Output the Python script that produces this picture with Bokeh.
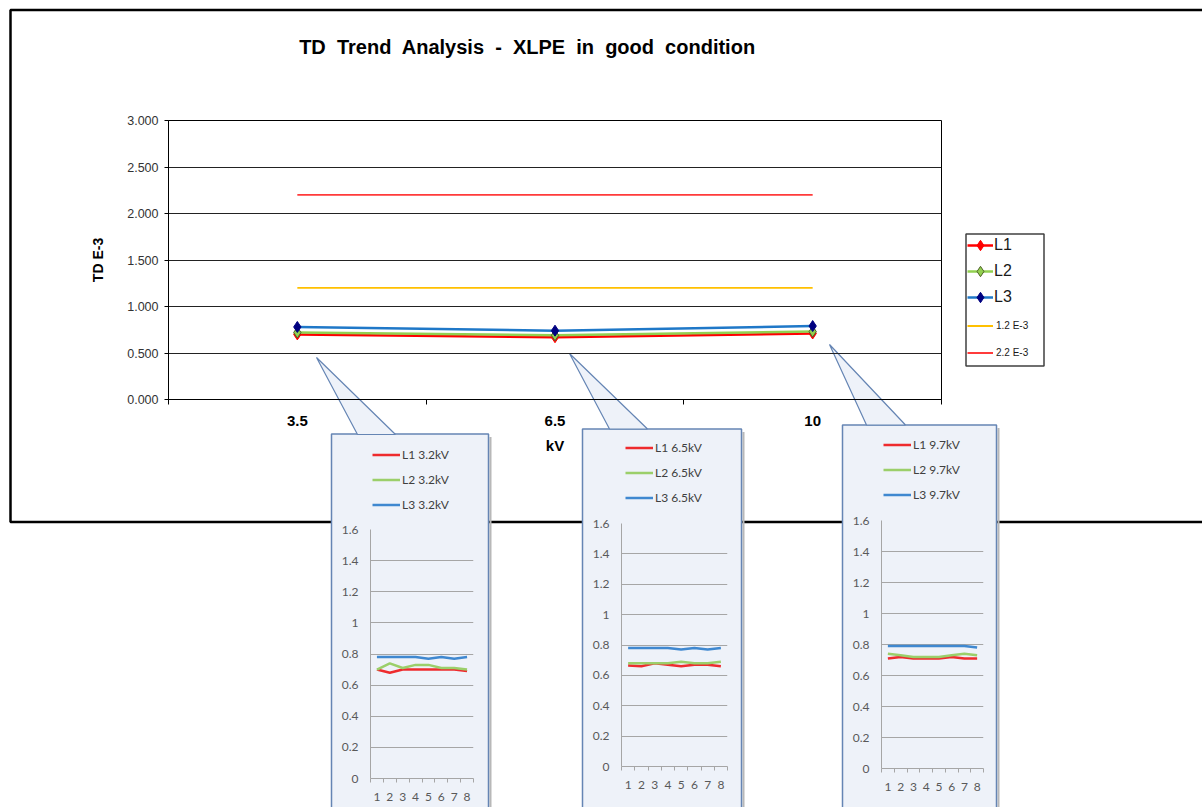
import numpy as np
from bokeh.plotting import figure
from bokeh.layouts import column
from bokeh.models import (Range1d, FixedTicker, Legend, LegendItem, Label,
                          NumeralTickFormatter, Row)
from bokeh.embed import file_html
from bokeh.resources import INLINE

# ---------------- data ----------------
kv_labels = ["3.5", "6.5", "10"]
td_L1 = [0.70, 0.67, 0.71]
td_L2 = [0.72, 0.69, 0.73]
td_L3 = [0.78, 0.74, 0.79]
limit_12 = [1.2, 1.2, 1.2]
limit_22 = [2.2, 2.2, 2.2]
main_y_ticks = [0.0, 0.5, 1.0, 1.5, 2.0, 2.5, 3.0]

samples = [1, 2, 3, 4, 5, 6, 7, 8]
inset_y_ticks = [0, 0.2, 0.4, 0.6, 0.8, 1.0, 1.2, 1.4, 1.6]

kv32_L1 = [0.70, 0.68, 0.70, 0.70, 0.70, 0.70, 0.70, 0.69]
kv32_L2 = [0.70, 0.74, 0.71, 0.73, 0.73, 0.71, 0.71, 0.70]
kv32_L3 = [0.78, 0.78, 0.78, 0.78, 0.77, 0.78, 0.77, 0.78]

kv65_L1 = [0.665, 0.66, 0.68, 0.67, 0.66, 0.67, 0.67, 0.66]
kv65_L2 = [0.68, 0.68, 0.68, 0.68, 0.69, 0.68, 0.68, 0.69]
kv65_L3 = [0.78, 0.78, 0.78, 0.78, 0.77, 0.78, 0.77, 0.78]

kv97_L1 = [0.71, 0.72, 0.71, 0.71, 0.71, 0.72, 0.71, 0.71]
kv97_L2 = [0.74, 0.73, 0.72, 0.72, 0.72, 0.73, 0.74, 0.73]
kv97_L3 = [0.79, 0.79, 0.79, 0.79, 0.79, 0.79, 0.79, 0.78]

inset_names = ["3.2kV", "6.5kV", "9.7kV"]

# ---------------- styles ----------------
RED = "#FF0000"
GREEN = "#92D050"
BLUE = "#1F78C8"
NAVY = "#000080"
OLIVE = "#4F6228"
YELLOW = "#FFC000"
RED2 = "#FF3B3B"
IRED = "#EE2B2E"
IGREEN = "#9BCF6A"
IBLUE = "#3F88D0"
BOX_FILL = "#EEF2F9"
BOX_LINE = "#6585B4"
ARIAL = "Liberation Sans"
CAL = "Lato"
NB = "\u00a0"

W, H = 1202, 807
NAN2 = np.array([np.nan, np.nan])  # legend-only proxy renderers (draw nothing)


def no_align(f):
    if "frame_align" in f.properties():
        f.frame_align = False
    return f


# ---------------- base (decorations + legends) ----------------
base = figure(width=W, height=H, x_range=Range1d(0, W), y_range=Range1d(H, 0),
              output_backend="svg", toolbar_location=None, tools="", min_border=0,
              x_axis_location=None, y_axis_location=None, outline_line_color=None,
              background_fill_color="white", border_fill_color="white")
no_align(base)
base.grid.visible = False

# outer chart border
base.quad(left=[10], right=[1240], top=[9.5], bottom=[521.5], fill_color=None,
          line_color="black", line_width=2.5)

# title
title_text = (NB + " ").join(["TD", "Trend", "Analysis", "-", "XLPE", "in", "good", "condition"])
base.add_layout(Label(x=527, y=46, text=title_text,
                      text_align="center", text_baseline="middle", text_font=ARIAL,
                      text_font_size="20px", text_font_style="bold", text_color="black"))

# main legend box
base.quad(left=[965.5], right=[1043.5], top=[233.5], bottom=[365.5], fill_color="white",
          line_color="#404040", line_width=1.5)

# inset boxes
box_left = [331, 582, 842]
box_right = [488, 741, 996]
box_top = [433.5, 428.5, 424.5]
base.segment(x0=[r + 2 for r in box_right], x1=[r + 2 for r in box_right],
             y0=[t + 3 for t in box_top], y1=[830] * 3, line_color="#B8B8B8", line_width=2)
base.quad(left=box_left, right=box_right, top=box_top, bottom=[830] * 3,
          fill_color=BOX_FILL, line_color=BOX_LINE, line_width=1.5)
# callout pointers
base.patches(xs=[[316, 357, 395], [569, 609, 647], [829, 866, 905]],
             ys=[[357, 434, 434], [353, 428.5, 428.5], [344, 424.5, 424.5]],
             fill_color=BOX_FILL, line_color=BOX_LINE, line_width=1.2)

# main legend (two font sizes -> two legends)
leg_items_a = []
for lab, lc, mf, ml in [("L1", RED, RED, RED), ("L2", GREEN, GREEN, OLIVE), ("L3", BLUE, NAVY, NAVY)]:
    rl = base.line(x=NAN2, y=NAN2, line_color=lc, line_width=2.5)
    rs = base.scatter(x=NAN2, y=NAN2, marker="diamond", size=10, fill_color=mf, line_color=ml)
    leg_items_a.append(LegendItem(label=lab, renderers=[rl, rs]))
leg_a = Legend(items=leg_items_a, location=(967, H - 310), glyph_width=26,
               glyph_height=26, label_height=26, spacing=0, padding=0, margin=0,
               label_standoff=1, label_text_font=ARIAL, label_text_font_size="16px",
               label_text_color="#1A1A1A",
               border_line_color=None, background_fill_alpha=0)
base.add_layout(leg_a)
leg_items_b = []
for lab, lc in [("1.2 E-3", YELLOW), ("2.2 E-3", RED2)]:
    rl = base.line(x=NAN2, y=NAN2, line_color=lc, line_width=2)
    leg_items_b.append(LegendItem(label=lab, renderers=[rl]))
leg_b = Legend(items=leg_items_b, location=(967, H - 366), glyph_width=26,
               glyph_height=27, label_height=27, spacing=0, padding=0, margin=0,
               label_standoff=3, label_text_font=ARIAL, label_text_font_size="10px",
               label_text_color="#1A1A1A",
               border_line_color=None, background_fill_alpha=0)
base.add_layout(leg_b)

# inset legends
inset_leg_pos = [(372, 516.5), (625, 510), (883, 506.5)]
for name, (lx, lb) in zip(inset_names, inset_leg_pos):
    items = []
    for lab, col in [("L1", IRED), ("L2", IGREEN), ("L3", IBLUE)]:
        rl = base.line(x=NAN2, y=NAN2, line_color=col, line_width=2.5)
        items.append(LegendItem(label=f"{lab} {name}", renderers=[rl]))
    lg = Legend(items=items, location=(lx, H - lb), glyph_width=28,
                glyph_height=25, label_height=25, spacing=0, padding=0, margin=0,
                label_standoff=2, label_text_font=CAL, label_text_font_size="12px",
                label_text_color="#404040", border_line_color=None, background_fill_alpha=0)
    base.add_layout(lg)

# ---------------- main chart ----------------
MAIN_H = 522
xpos = [i + 0.5 for i in range(len(kv_labels))]
main = figure(width=W, height=MAIN_H, x_range=Range1d(0, len(kv_labels)), y_range=Range1d(0, 3),
              output_backend="svg", toolbar_location=None, tools="",
              min_border_left=168, min_border_right=W - 941, min_border_top=120,
              min_border_bottom=MAIN_H - 399,
              background_fill_color=None, border_fill_color=None,
              outline_line_color="black", outline_line_width=1, margin=(-H, 0, 0, 0))
no_align(main)

main.line(xpos, limit_22, line_color=RED2, line_width=1.6)
main.line(xpos, limit_12, line_color=YELLOW, line_width=1.6)
main.line(xpos, td_L1, line_color=RED, line_width=2.5)
main.scatter(xpos, td_L1, marker="diamond", size=11, fill_color=RED, line_color=RED)
main.line(xpos, td_L2, line_color=GREEN, line_width=2.5)
main.scatter(xpos, td_L2, marker="diamond", size=11, fill_color=GREEN, line_color=OLIVE)
main.line(xpos, td_L3, line_color=BLUE, line_width=2.5)
main.scatter(xpos, td_L3, marker="diamond", size=11, fill_color=NAVY, line_color=NAVY)

xax = main.xaxis[0]
xax.ticker = FixedTicker(ticks=xpos, minor_ticks=list(range(len(kv_labels) + 1)))
xax.major_label_overrides = {x: lab for x, lab in zip(xpos, kv_labels)}
xax.major_tick_out = 0
xax.major_tick_in = 0
xax.minor_tick_out = 5
xax.minor_tick_in = 0
xax.minor_tick_line_color = "black"
xax.axis_line_color = "black"
xax.major_label_text_font = ARIAL
xax.major_label_text_font_size = "15px"
xax.major_label_text_font_style = "bold"
xax.major_label_text_color = "black"
xax.major_label_standoff = 11
xax.axis_label = "kV"
xax.axis_label_text_font = ARIAL
xax.axis_label_text_font_size = "15px"
xax.axis_label_text_font_style = "bold"
xax.axis_label_text_color = "black"
xax.axis_label_standoff = 8

yax = main.yaxis[0]
yax.ticker = FixedTicker(ticks=main_y_ticks)
yax.formatter = NumeralTickFormatter(format="0.000")
yax.major_tick_out = 4
yax.major_tick_in = 0
yax.minor_tick_out = 0
yax.minor_tick_in = 0
yax.axis_line_color = "black"
yax.major_label_text_font = ARIAL
yax.major_label_text_font_size = "12.5px"
yax.major_label_text_color = "#333333"
yax.major_label_standoff = 6
yax.axis_label = "TD E-3"
yax.axis_label_text_font = ARIAL
yax.axis_label_text_font_size = "14px"
yax.axis_label_text_font_style = "bold"
yax.axis_label_text_color = "black"
yax.axis_label_standoff = 18

main.xgrid.visible = False
main.ygrid.ticker = FixedTicker(ticks=main_y_ticks)
main.ygrid.grid_line_color = "#222222"
main.ygrid.grid_line_width = 1

# ---------------- insets ----------------
INSET_TOP = 424
INSET_H = H - INSET_TOP
inset_series = [
    (kv32_L1, kv32_L2, kv32_L3),
    (kv65_L1, kv65_L2, kv65_L3),
    (kv97_L1, kv97_L2, kv97_L3),
]
# (canvas width, frame left, frame right, frame top, frame bottom, label standoff, left gap)
inset_geom = [
    (157, 370, 473, 529, 778, 10, 0),
    (159, 621, 727, 523, 766, 10, 94),
    (155, 881, 983, 520, 768, 10, 101),
]
inset_figs = []
for (s1, s2, s3), bl, (w, fl, fr, ft, fb, so, ml) in zip(inset_series, box_left, inset_geom):
    f = figure(width=w, height=INSET_H, x_range=Range1d(0.5, len(samples) + 0.5),
               y_range=Range1d(0, 1.6), output_backend="svg", toolbar_location=None,
               tools="", min_border_left=fl - bl, min_border_right=bl + w - fr,
               min_border_top=ft - INSET_TOP, min_border_bottom=H - fb,
               background_fill_color=None, border_fill_color=None,
               outline_line_color=None, margin=(0, 0, 0, ml))
    no_align(f)
    f.line(samples, s1, line_color=IRED, line_width=2.5)
    f.line(samples, s2, line_color=IGREEN, line_width=2.5)
    f.line(samples, s3, line_color=IBLUE, line_width=2.5)
    ax = f.xaxis[0]
    ax.ticker = FixedTicker(ticks=samples, minor_ticks=[s - 0.5 for s in samples] + [samples[-1] + 0.5])
    ax.major_tick_out = 0
    ax.major_tick_in = 0
    ax.minor_tick_out = 4
    ax.minor_tick_in = 0
    ax.minor_tick_line_color = "#A6A6A6"
    ax.axis_line_color = "#A6A6A6"
    ax.major_label_text_font = CAL
    ax.major_label_text_font_size = "12px"
    ax.major_label_text_color = "#595959"
    ax.major_label_standoff = so
    ay = f.yaxis[0]
    ay.ticker = FixedTicker(ticks=inset_y_ticks)
    ay.major_label_overrides = {t: f"{t:g}" for t in inset_y_ticks}
    ay.major_tick_out = 0
    ay.major_tick_in = 0
    ay.minor_tick_out = 0
    ay.minor_tick_in = 0
    ay.axis_line_color = "#A6A6A6"
    ay.major_label_text_font = CAL
    ay.major_label_text_font_size = "12px"
    ay.major_label_text_color = "#595959"
    ay.major_label_standoff = 12
    f.xgrid.visible = False
    f.ygrid.ticker = FixedTicker(ticks=inset_y_ticks)
    f.ygrid.grid_line_color = "#A6A6A6"
    inset_figs.append(f)

inset_row = Row(children=inset_figs, margin=(INSET_TOP - MAIN_H, 0, 0, box_left[0]), spacing=0)

layout = column(base, main, inset_row, spacing=0)

open("out.html", "w").write(file_html(layout, INLINE))
